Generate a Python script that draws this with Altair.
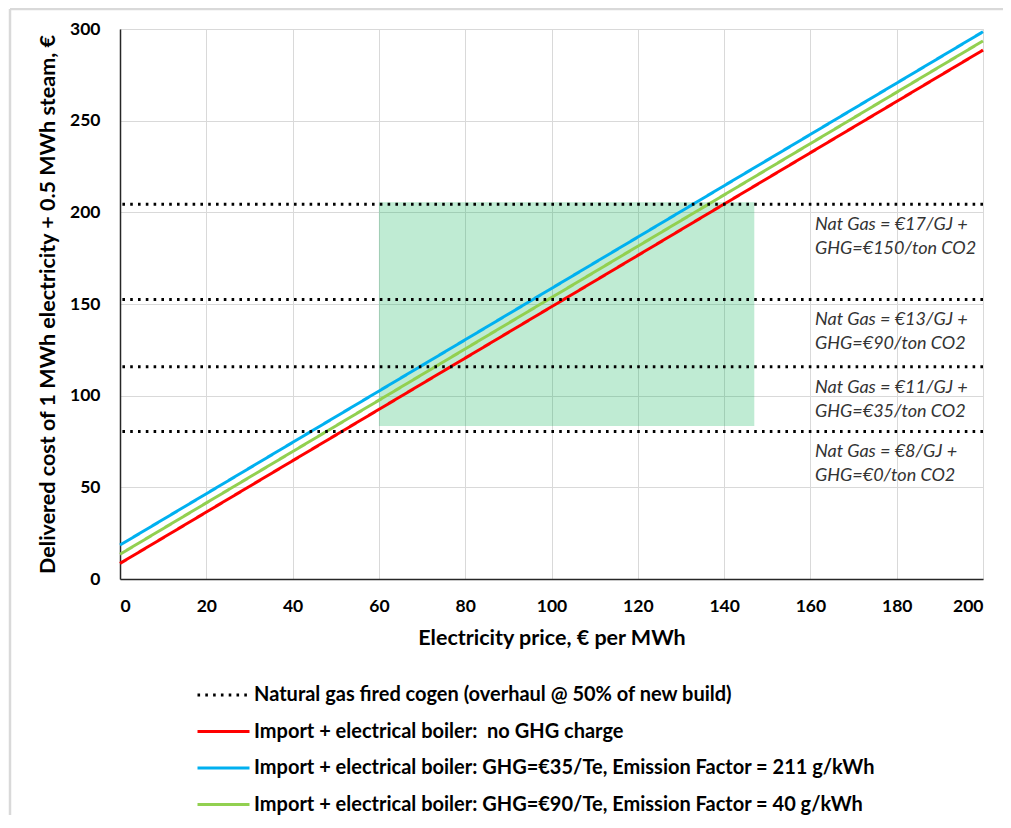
import altair as alt
import pandas as pd

# ---- data ----
x_price = [0, 200]
red_cost = [8.5, 288.5]
blue_cost = [18.5, 298.5]
green_cost = [13.5, 293.5]

series_names = [
    "Natural gas fired cogen (overhaul @ 50% of new build)",
    "Import + electrical boiler: \u00a0no GHG charge",
    "Import + electrical boiler: GHG=€35/Te, Emission Factor = 211 g/kWh",
    "Import + electrical boiler: GHG=€90/Te, Emission Factor = 40 g/kWh",
]
series_colors = ["#000000", "#FF0000", "#00B0F0", "#92D050"]

cogen_levels = [204.4, 152.5, 115.8, 80.5]
cogen_labels = [
    "Nat Gas = €17/GJ +\nGHG=€150/ton CO2",
    "Nat Gas = €13/GJ +\nGHG=€90/ton CO2",
    "Nat Gas = €11/GJ +\nGHG=€35/ton CO2",
    "Nat Gas = €8/GJ +\nGHG=€0/ton CO2",
]

box_x = [60, 147]
box_y = [83.5, 205.5]

x_ticks = [0, 20, 40, 60, 80, 100, 120, 140, 160, 180, 200]
y_ticks = [0, 50, 100, 150, 200, 250, 300]

# ---- tables ----
lines_rows = []
for name, vals in zip(series_names[1:], [red_cost, blue_cost, green_cost]):
    for xv, yv in zip(x_price, vals):
        lines_rows.append({"price": xv, "cost": yv, "series": name})
lines_df = pd.DataFrame(lines_rows)

cogen_df = pd.DataFrame({
    "cost": cogen_levels,
    "label": cogen_labels,
    "series": [series_names[0]] * len(cogen_levels),
})

box_df = pd.DataFrame({"x1": [box_x[0]], "x2": [box_x[1]], "y1": [box_y[0]], "y2": [box_y[1]]})

FONT = "Lato"

x_scale = alt.Scale(domain=[0, 200], nice=False, zero=False)
y_scale = alt.Scale(domain=[0, 300], nice=False, zero=False)

color_scale = alt.Scale(domain=series_names, range=series_colors)
dash_scale = alt.Scale(domain=series_names, range=[[2.6, 5.2], [1, 0], [1, 0], [1, 0]])

legend = alt.Legend(
    title=None,
    orient="none",
    legendX=76,
    legendY=655,
    direction="vertical",
    symbolType="stroke",
    symbolSize=2704,
    symbolStrokeWidth=3,
    clipHeight=22,
    rowPadding=14.5,
    labelOffset=3,
    labelFont=FONT,
    labelFontSize=20,
    labelFontWeight="bold",
    labelColor="#000000",
    labelLimit=900,
    padding=0,
)

x_axis = alt.Axis(
    values=x_ticks,
    title="Electricity price, € per MWh",
    titleFont=FONT, titleFontSize=21.5, titleFontWeight="bold", titleColor="#000000",
    titleY=59, titleBaseline="middle",
    labelFont=FONT, labelFontSize=17.5, labelFontWeight="bold", labelColor="#000000",
    labelPadding=18, ticks=False, tickSize=0,
    grid=True, gridColor="#d9d9d9", gridWidth=1,
    domainColor="#262626", domainWidth=1.5,
)
y_axis = alt.Axis(
    values=y_ticks,
    title="Delivered cost of 1 MWh electricity + 0.5 MWh steam, €",
    titleFont=FONT, titleFontSize=21.5, titleFontWeight="bold", titleColor="#000000",
    titleX=-72, titleY=275, titleAngle=-90, titleAlign="center", titleBaseline="middle",
    labelFont=FONT, labelFontSize=17.5, labelFontWeight="bold", labelColor="#000000",
    labelPadding=20, ticks=False, tickSize=0,
    grid=True, gridColor="#d9d9d9", gridWidth=1,
    domainColor="#262626", domainWidth=1.5,
)

box = alt.Chart(box_df).mark_rect(color="#00B050", opacity=0.25).encode(
    x=alt.X("x1:Q", scale=x_scale, axis=x_axis),
    x2="x2:Q",
    y=alt.Y("y1:Q", scale=y_scale, axis=y_axis),
    y2="y2:Q",
)

lines = alt.Chart(lines_df).mark_line(strokeWidth=3).encode(
    x=alt.X("price:Q", scale=x_scale),
    y=alt.Y("cost:Q", scale=y_scale),
    color=alt.Color("series:N", scale=color_scale, legend=legend, sort=series_names),
    strokeDash=alt.StrokeDash("series:N", scale=dash_scale, legend=legend, sort=series_names),
    detail="series:N",
)

rules = alt.Chart(cogen_df).mark_rule(strokeWidth=3).encode(
    y=alt.Y("cost:Q", scale=y_scale),
    color=alt.Color("series:N", scale=color_scale, legend=legend, sort=series_names),
    strokeDash=alt.StrokeDash("series:N", scale=dash_scale, legend=legend, sort=series_names),
)

labels = alt.Chart(cogen_df).mark_text(
    align="left", baseline="top", dy=12, lineBreak="\n", lineHeight=24,
    font=FONT, fontSize=18, fontStyle="italic", color="#333333",
).encode(
    x=alt.value(695),
    y=alt.Y("cost:Q", scale=y_scale),
    text="label:N",
)

# outer chart-area border (top and left visible in the reference)
border_top = alt.Chart(box_df).mark_rule(color="#d9d9d9", strokeWidth=2.5).encode(
    x=alt.value(-110), x2=alt.value(900), y=alt.value(-20)
)
border_left = alt.Chart(box_df).mark_rule(color="#d9d9d9", strokeWidth=2.5).encode(
    x=alt.value(-110), y=alt.value(-20), y2=alt.value(800)
)

chart = alt.layer(box, lines, rules, labels, border_top, border_left).properties(
    width=863,
    height=550,
    padding={"left": 112, "top": 21, "right": 20, "bottom": 236},
    autosize=alt.AutoSizeParams(type="none"),
).configure_view(
    stroke="#7f7f7f", strokeWidth=1.5
).configure(
    background="white"
)

chart.save("out.html", embed_options={"renderer": "svg", "actions": False})
